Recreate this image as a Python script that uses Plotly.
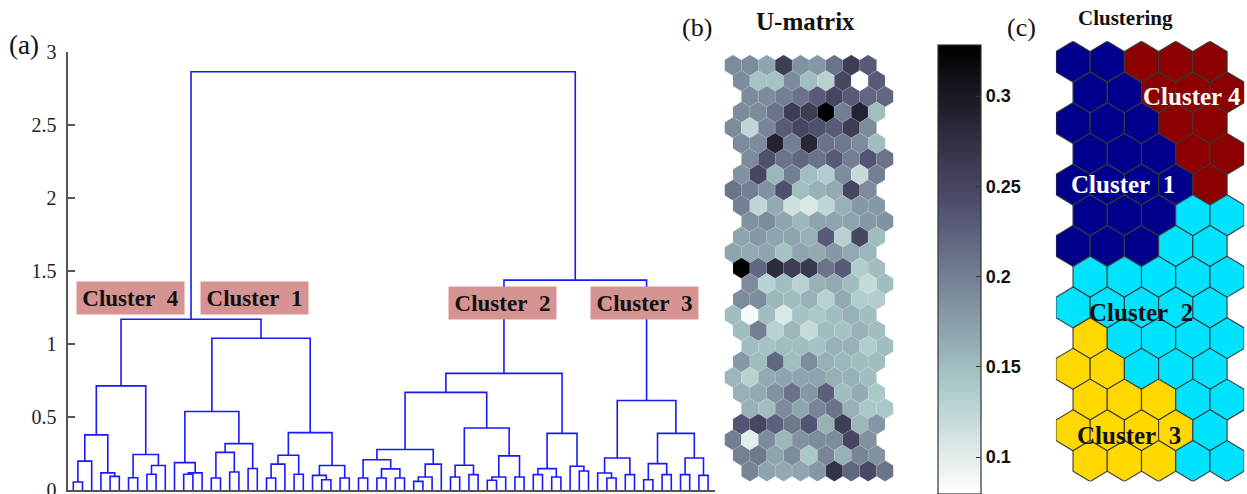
import plotly.graph_objects as go
from plotly.colors import sample_colorscale

W, H = 1247, 494

# ---------------- DATA ----------------
# Dendrogram merge tree: (left, right, merge height); None = leaf (map unit)
L = None
c4_a = (((L, L, 0.057), L, 0.20), (L, (L, L, 0.096), 0.12), 0.38)
c4_b = ((L, L, 0.087), ((L, L, 0.11), L, 0.17), 0.245)
cluster4 = (c4_a, c4_b, 0.715)

c1_a = ((L, ((L, L, 0.11), L, 0.12), 0.19),
        (((L, L, 0.085), (L, L, 0.126), 0.26), (L, L, 0.15), 0.32), 0.54)
c1_b = ((((L, L, 0.085), L, 0.18), (L, L, 0.11), 0.24),
        ((L, (L, L, 0.073), 0.103), (L, L, 0.085), 0.17), 0.395)
cluster1 = (c1_a, c1_b, 1.04)

c2_a = (((L, L, 0.085), ((L, L, 0.085), (L, L, 0.085), 0.147), 0.21),
        (((L, L, 0.062), L, 0.092), L, 0.18), 0.28)
c2_b = (((L, L, 0.092), (L, L, 0.108), 0.172),
        (((L, L, 0.069), L, 0.092), (L, L, 0.092), 0.236), 0.427)
c2_c = (((L, L, 0.108), (L, L, 0.092), 0.149), (L, (L, L, 0.133), 0.165), 0.39)
cluster2 = ((c2_a, c2_b, 0.67), c2_c, 0.80)

c3_a = ((L, (L, L, 0.085), 0.119), (L, L, 0.108), 0.222)
c3_b = (((L, L, 0.073), (L, L, 0.108), 0.183), ((L, L, 0.108), (L, L, 0.103), 0.222), 0.39)
cluster3 = (c3_a, c3_b, 0.615)

root = ((cluster4, cluster1, 1.17), (cluster2, cluster3, 1.438), 2.863)

dendro_labels = ["Cluster\u00a0 4", "Cluster\u00a0 1", "Cluster\u00a0 2", "Cluster\u00a0 3"]
y_ticks = [0, 0.5, 1, 1.5, 2, 2.5, 3]

# U-matrix (27 rows x 9 columns), top row first
umat = [
    [0.19, 0.19, 0.17, 0.26, 0.185, 0.18, 0.21, 0.26, 0.23],
    [0.19, 0.145, 0.145, 0.19, 0.15, 0.13, 0.25, 0.08, 0.23],
    [0.19, 0.19, 0.20, 0.21, 0.23, 0.25, 0.23, 0.22, 0.22],
    [0.19, 0.19, 0.21, 0.26, 0.26, 0.33, 0.20, 0.29, 0.15],
    [0.19, 0.125, 0.195, 0.23, 0.25, 0.24, 0.23, 0.26, 0.19],
    [0.19, 0.19, 0.29, 0.20, 0.285, 0.21, 0.205, 0.19, 0.15],
    [0.19, 0.24, 0.21, 0.22, 0.21, 0.23, 0.20, 0.235, 0.21],
    [0.185, 0.25, 0.155, 0.20, 0.15, 0.135, 0.19, 0.12, 0.20],
    [0.21, 0.20, 0.185, 0.24, 0.15, 0.16, 0.165, 0.25, 0.19],
    [0.20, 0.125, 0.165, 0.115, 0.105, 0.125, 0.16, 0.18, 0.18],
    [0.185, 0.19, 0.17, 0.155, 0.17, 0.17, 0.17, 0.18, 0.185],
    [0.17, 0.18, 0.17, 0.17, 0.16, 0.23, 0.13, 0.25, 0.15],
    [0.17, 0.165, 0.17, 0.145, 0.17, 0.165, 0.18, 0.165, 0.155],
    [0.33, 0.22, 0.28, 0.26, 0.265, 0.21, 0.23, 0.135, 0.15],
    [0.19, 0.13, 0.15, 0.13, 0.16, 0.165, 0.15, 0.12, 0.15],
    [0.19, 0.19, 0.155, 0.15, 0.16, 0.13, 0.165, 0.135, 0.135],
    [0.15, 0.085, 0.15, 0.105, 0.145, 0.14, 0.15, 0.16, 0.15],
    [0.15, 0.20, 0.13, 0.155, 0.12, 0.15, 0.145, 0.16, 0.15],
    [0.15, 0.145, 0.15, 0.15, 0.145, 0.16, 0.16, 0.135, 0.15],
    [0.18, 0.15, 0.22, 0.15, 0.19, 0.16, 0.155, 0.15, 0.15],
    [0.155, 0.13, 0.165, 0.17, 0.17, 0.17, 0.16, 0.16, 0.15],
    [0.16, 0.165, 0.185, 0.21, 0.18, 0.225, 0.15, 0.165, 0.14],
    [0.16, 0.15, 0.19, 0.17, 0.195, 0.21, 0.16, 0.14, 0.14],
    [0.235, 0.25, 0.225, 0.205, 0.235, 0.16, 0.26, 0.155, 0.18],
    [0.20, 0.10, 0.19, 0.155, 0.185, 0.19, 0.19, 0.25, 0.185],
    [0.20, 0.205, 0.17, 0.19, 0.14, 0.195, 0.16, 0.195, 0.185],
    [0.195, 0.17, 0.165, 0.17, 0.18, 0.27, 0.22, 0.245, 0.21],
]
umat_range = [0.0795, 0.3283]
cbar_ticks = [0.1, 0.15, 0.2, 0.25, 0.3]

# Clustering of the 14 x 5 map (top row first)
clusters = [
    [1, 1, 4, 4, 4],
    [1, 1, 4, 4, 4],
    [1, 1, 1, 4, 4],
    [1, 1, 1, 4, 4],
    [1, 1, 1, 1, 4],
    [1, 1, 1, 2, 2],
    [1, 1, 1, 2, 2],
    [2, 2, 2, 2, 2],
    [2, 2, 2, 2, 2],
    [3, 2, 2, 2, 2],
    [3, 3, 2, 2, 2],
    [3, 3, 3, 2, 2],
    [3, 3, 3, 3, 2],
    [3, 3, 3, 2, 2],
]
cluster_colors = {1: "#00008C", 2: "#00E3FF", 3: "#FFD800", 4: "#8C0000"}
cluster_names = {1: "Cluster\u00a0 1", 2: "Cluster\u00a0 2", 3: "Cluster\u00a0 3", 4: "Cluster 4"}

# --------------- STYLE ----------------
SERIF = "Liberation Serif"
SANS = "Liberation Sans"
bone_r = [[0.0, "rgb(255,255,255)"], [0.254, "rgb(167,198,198)"],
          [0.635, "rgb(81,81,113)"], [1.0, "rgb(0,0,0)"]]

fig = go.Figure()

# ---- dendrogram ----
xs, ys = [], []
counter = [0]


def draw(node):
    if node is None:
        counter[0] += 1
        return float(counter[0]), 0.0
    left, right, h = node
    xl, hl = draw(left)
    xr, hr = draw(right)
    xs.extend([xl, xl, xr, xr, None])
    ys.extend([hl, h, h, hr, None])
    return (xl + xr) / 2.0, h


draw(root)
fig.add_trace(go.Scatter(x=xs, y=ys, mode="lines", xaxis="x", yaxis="y",
                         line=dict(color="rgb(25,25,255)", width=1.6),
                         hoverinfo="skip", showlegend=False, cliponaxis=False))


def hex_path(cx, cy):
    hh = 2.0 / 3.0
    return (f"M {cx},{cy - hh} L {cx + 0.5},{cy - hh / 2} L {cx + 0.5},{cy + hh / 2} "
            f"L {cx},{cy + hh} L {cx - 0.5},{cy + hh / 2} L {cx - 0.5},{cy - hh / 2} Z")


# ---- U-matrix hexes ----
shapes = []
umat_shift = [0.0, 0.5, 1.0, 0.5]
hx, hy, hv = [], [], []
span = umat_range[1] - umat_range[0]
for r, row in enumerate(umat):
    for c, v in enumerate(row):
        cx = c + umat_shift[r % 4]
        cy = r
        hx.append(cx); hy.append(cy); hv.append(v)
        t = min(max((v - umat_range[0]) / span, 0), 1)
        col = sample_colorscale(bone_r, [t])[0]
        shapes.append(dict(type="path", path=hex_path(cx, cy), xref="x2", yref="y2",
                           fillcolor=col, line=dict(color="rgba(235,240,240,0.2)", width=0.5),
                           layer="above"))

fig.add_trace(go.Scatter(
    x=hx, y=hy, mode="markers", xaxis="x2", yaxis="y2", hoverinfo="skip", showlegend=False,
    marker=dict(size=1, opacity=0, color=hv, colorscale=bone_r,
                cmin=umat_range[0], cmax=umat_range[1], showscale=True,
                colorbar=dict(x=938 / W, xanchor="left", y=1 - 45 / H, yanchor="top",
                              len=449, lenmode="pixels", thickness=43, thicknessmode="pixels",
                              ypad=0, xpad=0, outlinewidth=1.2, outlinecolor="#333",
                              tickvals=cbar_ticks, ticks="inside", ticklen=5,
                              tickcolor="#333", tickwidth=1.2,
                              tickfont=dict(family=SANS, size=18, color="#111", weight="bold")))))

# ---- clustering map hexes ----
cx_list, cy_list = [], []
for r, row in enumerate(clusters):
    for c, k in enumerate(row):
        cx = c + (0.5 if r % 2 else 0.0)
        cy = r
        cx_list.append(cx); cy_list.append(cy)
        shapes.append(dict(type="path", path=hex_path(cx, cy), xref="x3", yref="y3",
                           fillcolor=cluster_colors[k], line=dict(color="#3a3a3a", width=1.1),
                           layer="above"))

fig.add_trace(go.Scatter(x=cx_list, y=cy_list, mode="markers", xaxis="x3", yaxis="y3",
                         marker=dict(size=1, opacity=0), hoverinfo="skip", showlegend=False))

# ---- annotations ----
ann = []
box_pos = [(7.22, 1.316), (20.70, 1.316), (47.65, 1.282), (63.09, 1.282)]
for txt, (bx, by) in zip(dendro_labels, box_pos):
    ann.append(dict(x=bx, y=by, xref="x", yref="y", text=f"<b>{txt}</b>", showarrow=False,
                    font=dict(family=SERIF, size=23, color="#111"), bgcolor="#D59391",
                    width=105, height=30, borderpad=1))

map_label_pos = {4: (3.47, 1.12), 1: (1.46, 4.0), 2: (1.99, 8.16), 3: (1.64, 12.17)}
map_label_col = {4: "white", 1: "white", 2: "#111", 3: "#111"}
for k, (lx, ly) in map_label_pos.items():
    ann.append(dict(x=lx, y=ly, xref="x3", yref="y3", text=f"<b>{cluster_names[k]}</b>",
                    showarrow=False, font=dict(family=SERIF, size=25, color=map_label_col[k])))

for txt, px, py, sz, bold in [("(a)", 24, 45, 27, False), ("(b)", 697, 28, 26, False),
                              ("(c)", 1021, 28, 26, False), ("U-matrix", 805, 22, 25, True),
                              ("Clustering", 1125, 18, 21, True)]:
    ann.append(dict(x=px / W, y=1 - py / H, xref="paper", yref="paper",
                    text=f"<b>{txt}</b>" if bold else txt, showarrow=False,
                    xanchor="center", yanchor="middle",
                    font=dict(family=SERIF, size=sz, color="#111")))

fig.update_layout(
    width=W, height=H, autosize=False, margin=dict(l=0, r=0, t=0, b=0, autoexpand=False),
    paper_bgcolor="white", plot_bgcolor="rgba(0,0,0,0)", showlegend=False,
    shapes=shapes, annotations=ann,
    xaxis=dict(domain=[68.3 / W, 715 / W], range=[0.457, 70.75], anchor="y",
               showline=True, linecolor="#555", linewidth=1.5, ticks="",
               showticklabels=False, showgrid=False, zeroline=False),
    yaxis=dict(domain=[(H - 490.4) / H, (H - 51.7) / H], range=[0, 3], anchor="x",
               showline=True, linecolor="#555", linewidth=1.5, ticks="inside", ticklen=7,
               tickcolor="#555", tickwidth=1.5, tickvals=y_ticks,
               ticktext=[f"{v:g}" for v in y_ticks], ticklabelstandoff=6,
               ticklabeloverflow="allow",
               tickfont=dict(family=SERIF, size=20, color="#222"),
               showgrid=False, zeroline=False),
    xaxis2=dict(domain=[724.5 / W, 893.5 / W], range=[-0.5, 9.5], anchor="y2", visible=False),
    yaxis2=dict(domain=[(H - 481.4) / H, (H - 54.9) / H], range=[26.6667, -0.6667],
                anchor="x2", visible=False),
    xaxis3=dict(domain=[1055.9 / W, 1244.2 / W], range=[-0.5, 5.0], anchor="y3", visible=False),
    yaxis3=dict(domain=[(H - 481.5) / H, (H - 41.2) / H], range=[13.6667, -0.6667],
                anchor="x3", visible=False),
)

fig.write_html("out.html", config={"displayModeBar": False},
               post_script="document.body.style.margin='0';document.body.style.overflow='hidden';")
